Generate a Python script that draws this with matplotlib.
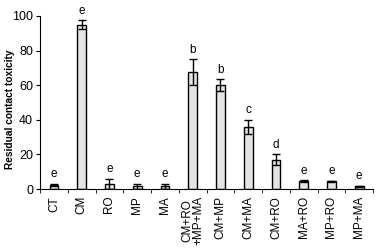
import matplotlib
matplotlib.use("Agg")
import matplotlib.pyplot as plt
import numpy as np

plt.rcParams["font.family"] = ["Liberation Sans Narrow", "Liberation Sans", "DejaVu Sans"]

# 数据
labels = ["CT", "CM", "RO", "MP", "MA", "CM+RO\n+MP+MA", "CM+MP", "CM+MA",
          "CM+RO", "MA+RO", "MP+RO", "MP+MA"]
values = [2.5, 95, 3, 1.5, 1.5, 67.5, 60, 36, 17, 4.5, 4.5, 1.5]
errors = [0.5, 2.5, 3, 1.5, 1.5, 7.5, 3.5, 4, 3, 0.5, 0.3, 0.5]
letters = ["e", "e", "e", "e", "e", "b", "b", "c", "d", "e", "e", "e"]

fig = plt.figure(figsize=(3.78, 2.5), dpi=100)
ax = fig.add_axes([0.106, 0.244, 0.881, 0.692])

x = np.arange(len(labels))
ax.bar(x, values, width=0.32, color="#e4e4e4", edgecolor="black", linewidth=1.0,
       yerr=errors, capsize=3, error_kw=dict(elinewidth=1.0, capthick=1.0, ecolor="black"))

for xi, v, e, t in zip(x, values, errors, letters):
    ax.text(xi, v + e + 2, t, ha="center", va="bottom", fontsize=8.5)

ax.set_xlim(-0.5, len(labels) - 0.5)
ax.set_ylim(0, 100)
ax.set_yticks([0, 20, 40, 60, 80, 100])
ax.tick_params(axis="y", labelsize=9, length=3, direction="out", pad=2)
ax.set_xticks(x)
ax.set_xticklabels(labels, rotation=90, fontsize=8.5, linespacing=0.9)
ax.tick_params(axis="x", which="major", length=0, pad=5)
ax.set_xticks(np.arange(-0.5, len(labels)), minor=True)
ax.tick_params(axis="x", which="minor", length=3, direction="out")

ax.spines["top"].set_visible(False)
ax.spines["right"].set_visible(False)
ax.set_ylabel("Residual contact toxicity", fontsize=7.3, fontweight="bold")
ax.yaxis.set_label_coords(-0.075, 0.46)

plt.savefig("out.png", dpi=100)
